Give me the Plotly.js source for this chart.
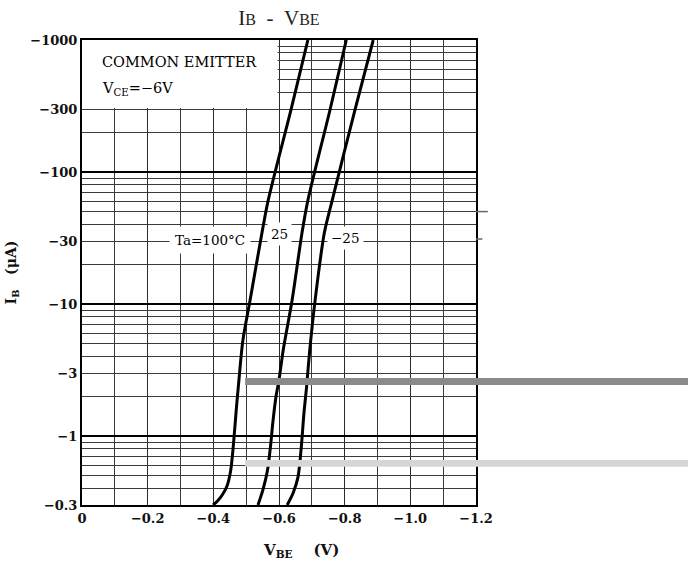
<!DOCTYPE html>
<html><head><meta charset="utf-8">
<script src="https://cdn.plot.ly/plotly-3.0.1.min.js"></script>
<style>body{margin:0;background:#fff}#chart{width:698px;height:565px}</style>
</head><body><div id="chart"></div>
<script>
// V_BE (V) and I_B (uA), three ambient temperatures
const vbeTa100 = [-0.399,-0.412,-0.428,-0.442,-0.453,-0.461,-0.470,-0.477,-0.490,-0.512,-0.548,-0.567,-0.637,-0.688];
const ibTa100  = [-0.30,-0.32,-0.36,-0.42,-0.55,-0.85,-1.6,-2.5,-5.3,-10.7,-34.5,-61,-300,-1000];
const vbeTa25  = [-0.536,-0.551,-0.565,-0.574,-0.582,-0.591,-0.600,-0.613,-0.640,-0.670,-0.688,-0.756,-0.805];
const ibTa25   = [-0.30,-0.39,-0.55,-0.83,-1.32,-2.0,-2.66,-4.5,-10.7,-34.5,-61,-300,-1000];
const vbeTaM25 = [-0.625,-0.643,-0.658,-0.668,-0.676,-0.684,-0.693,-0.710,-0.738,-0.762,-0.832,-0.887];
const ibTaM25  = [-0.30,-0.37,-0.49,-0.83,-1.49,-2.35,-4.3,-10.7,-34.5,-61,-300,-1000];

const xTickVals = [0,-0.2,-0.4,-0.6,-0.8,-1.0,-1.2];
const xTickText = ["0","\u22120.2","\u22120.4","\u22120.6","\u22120.8","\u22121.0","\u22121.2"];
const yLabelVals = [0.3,1,3,10,30,100,300,1000];
const yLabelText = ["\u22120.3","\u22121","\u22123","\u221210","\u221230","\u2212100","\u2212300","\u22121000"];
const yDecades = [1,10,100];

// full log grid (1..9 per decade) within range
const yGrid = [];
[0.1,1,10,100].forEach(d => { for (let k=1;k<=9;k++){ const v=+(k*d).toPrecision(3); if (v>=0.3 && v<=1000) yGrid.push(v);} });
yGrid.push(1000);

const mag = a => a.map(v => -v);
const curveLine = {color:'#000', width:3, shape:'spline', smoothing:0.8};

const traces = [
  {x:vbeTa100, y:mag(ibTa100), mode:'lines', line:curveLine, name:'Ta=100°C', hoverinfo:'skip'},
  {x:vbeTa25,  y:mag(ibTa25),  mode:'lines', line:curveLine, name:'25', hoverinfo:'skip', yaxis:'y2'},
  {x:vbeTaM25, y:mag(ibTaM25), mode:'lines', line:curveLine, name:'-25', hoverinfo:'skip', yaxis:'y3'}
];

const serif = "DejaVu Serif, Liberation Serif, serif";
const yRange = [Math.log10(0.3), 3];
const layout = {
  width:698, height:565,
  margin:{l:82, r:222, t:40, b:60},
  paper_bgcolor:'#fff', plot_bgcolor:'#fff',
  showlegend:false,
  title:{text:"I<span style='font-size:16px'>B</span>\u00a0\u00a0-\u00a0\u00a0V<span style='font-size:16px'>BE</span>",
         xref:'paper', x:0.5, xanchor:'center', y:0.969, yanchor:'middle',
         font:{family:"Liberation Serif, serif", size:21, color:'#222'}},
  xaxis:{range:[0,-1.2], tickvals:xTickVals, ticktext:xTickText, ticks:'', showgrid:true,
         gridcolor:'#2a2a2a', gridwidth:1, zeroline:false, showline:true, linecolor:'#000', linewidth:2, mirror:true,
         minor:{dtick:0.1, tick0:0, showgrid:true, gridcolor:'#3a3a3a', gridwidth:1, ticks:''},
         tickfont:{family:serif, size:13, color:'#111', weight:'bold'}},
  yaxis:{type:'log', range:yRange, tickvals:yLabelVals, ticktext:yLabelText, ticks:'',
         showgrid:false, zeroline:false, showline:true, linecolor:'#000',
         linewidth:2, mirror:true, tickfont:{family:serif, size:13, color:'#111', weight:'bold'},
         title:{text:"I<sub>B</sub>\u00a0\u00a0\u00a0(\u03bcA)", standoff:10, font:{family:serif, size:14, color:'#111', weight:'bold'}}},
  yaxis2:{type:'log', range:yRange, overlaying:'y', side:'left', tickvals:yGrid,
          showticklabels:false, ticks:'', showgrid:true, gridcolor:'#3a3a3a', gridwidth:1, zeroline:false, showline:false},
  yaxis3:{type:'log', range:yRange, overlaying:'y', side:'left', tickvals:yDecades,
          showticklabels:false, ticks:'', showgrid:true, gridcolor:'#000', gridwidth:1.8, zeroline:false, showline:false},
  shapes:[
    {type:'rect', xref:'x', yref:'y', x0:0, x1:-0.596, y0:306, y1:1000, fillcolor:'#fff', line:{width:0}, layer:'between'},
    // scan artefacts visible in the reference
    {type:'rect', xref:'paper', yref:'paper', x0:0.414, x1:1.538, y0:0.258, y1:0.273, fillcolor:'#8a8a8a', line:{width:0}, layer:'above'},
    {type:'rect', xref:'paper', yref:'paper', x0:0.414, x1:1.538, y0:0.082, y1:0.097, fillcolor:'#d6d6d6', line:{width:0}, layer:'above'},
    {type:'line', xref:'paper', yref:'paper', x0:1.0, x1:1.03, y0:0.631, y1:0.631, line:{color:'#666', width:1.5}},
    {type:'line', xref:'paper', yref:'paper', x0:1.0, x1:1.016, y0:0.572, y1:0.572, line:{color:'#666', width:1.5}}
  ],
  annotations:[
    // x-axis title (placed as in the reference, right of the plot centre)
    {xref:'paper', yref:'paper', x:0.555, y:-0.097, xanchor:'center', yanchor:'middle', showarrow:false,
     text:"V<sub>BE</sub>\u00a0\u00a0\u00a0\u00a0(V)", font:{family:serif, size:15, color:'#111', weight:'bold'}},
    {xref:'paper', yref:'paper', x:0.045, y:0.953, xanchor:'left', yanchor:'middle', showarrow:false,
     text:"COMMON EMITTER", font:{family:serif, size:14.5, color:'#000'}},
    {xref:'paper', yref:'paper', x:0.045, y:0.895, xanchor:'left', yanchor:'middle', showarrow:false,
     text:"V<sub>CE</sub>=\u22126V", font:{family:serif, size:14.5, color:'#000'}},
    {xref:'paper', yref:'paper', x:0.325, y:0.570, xanchor:'center', yanchor:'middle', showarrow:false,
     text:"Ta=100°C", bgcolor:'#fff', borderpad:5, font:{family:serif, size:13.5, color:'#000'}},
    {xref:'paper', yref:'paper', x:0.500, y:0.583, xanchor:'center', yanchor:'middle', showarrow:false,
     text:"25", bgcolor:'#fff', borderpad:3, font:{family:serif, size:13.5, color:'#000'}},
    {xref:'paper', yref:'paper', x:0.670, y:0.574, xanchor:'center', yanchor:'middle', showarrow:false,
     text:"\u221225", bgcolor:'#fff', borderpad:3, font:{family:serif, size:13.5, color:'#000'}}
  ]
};

Plotly.newPlot('chart', traces, layout, {displayModeBar:false, staticPlot:true});
</script>
</body></html>
